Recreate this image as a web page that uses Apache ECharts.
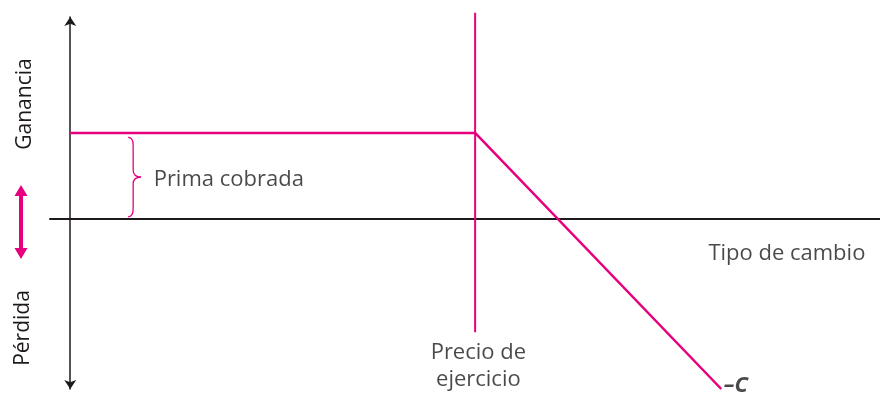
<!DOCTYPE html>
<html>
<head>
<meta charset="utf-8">
<script src="https://cdn.jsdelivr.net/npm/echarts@6/dist/echarts.min.js"></script>
<style>
    html, body { margin: 0; padding: 0; background: #fff; }
    #container { width: 880px; height: 394px; }
</style>
</head>
<body>
<div id="container"></div>
<script>
/*
 * Short call payoff: premium collected up to the strike, then losses
 */
const pink = '#e6007e';
const ink = '#1e1a1b';
const font = '"Open Sans", sans-serif';

// payoff line (x = tipo de cambio, y = ganancia)
const payoffX = [0, 50, 80.4];
const payoffY = [10, 10, -19.8];
// vertical line at the strike price
const strikeX = [50, 50];
const strikeY = [24, -13.2];
// brace: x, from y, to y
const brace = [[7.4, 0.25, 9.5]];
// text labels placed on the chart
const labelNames = ['Prima cobrada', 'Tipo de cambio', 'Precio de\nejercicio', '–C'];
const labelX = [10.3, 88.5, 50.4, 82.2];
const labelY = [4.5, -4.1, -17.2, -19.4];

const dom = document.getElementById('container');
const myChart = echarts.init(dom);

function zip(xs, ys) {
    return xs.map((x, i) => [x, ys[i]]);
}

const option = {
    animation: false,
    backgroundColor: '#fff',
    grid: {
        left: 50,
        right: 0,
        top: 17,
        bottom: 5
    },
    xAxis: {
        type: 'value',
        min: -2.5,
        max: 100,
        splitLine: { show: false },
        axisTick: { show: false },
        axisLabel: { show: false },
        axisLine: {
            onZero: true,
            lineStyle: { color: ink, width: 2 }
        }
    },
    yAxis: {
        type: 'value',
        min: -19.8,
        max: 23.5,
        splitLine: { show: false },
        axisTick: { show: false },
        axisLabel: { show: false },
        axisLine: {
            onZero: true,
            symbol: ['arrow', 'arrow'],
            symbolSize: [9, 9],
            lineStyle: { color: ink, width: 1.5 }
        }
    },
    graphic: [
        {
            // double arrow between Ganancia and Pérdida
            type: 'polygon',
            shape: {
                points: [[21, 185], [27.5, 196], [23, 196], [23, 248], [27.5, 248], [21, 259],
                    [14.5, 248], [19, 248], [19, 196], [14.5, 196]]
            },
            style: { fill: pink }
        },
        {
            type: 'text',
            x: 25,
            y: 104,
            rotation: Math.PI / 2,
            style: {
                text: 'Ganancia',
                font: '21px ' + font,
                fill: ink,
                align: 'center',
                verticalAlign: 'middle'
            }
        },
        {
            type: 'text',
            x: 23,
            y: 328,
            rotation: Math.PI / 2,
            style: {
                text: 'Pérdida',
                font: '21px ' + font,
                fill: ink,
                align: 'center',
                verticalAlign: 'middle'
            }
        }
    ],
    series: [
        {
            type: 'line',
            data: zip(strikeX, strikeY),
            symbol: 'none',
            clip: false,
            lineStyle: { color: pink, width: 2 },
            z: 3
        },
        {
            type: 'line',
            data: zip(payoffX, payoffY),
            symbol: 'none',
            clip: false,
            lineStyle: { color: pink, width: 2.5 },
            z: 4
        },
        {
            type: 'custom',
            data: brace,
            clip: false,
            renderItem: function (params, api) {
                const top = api.coord([api.value(0), api.value(2)]);
                const bot = api.coord([api.value(0), api.value(1)]);
                const x = top[0], y1 = top[1], y2 = bot[1];
                const ym = (y1 + y2) / 2;
                const s = x + 3;
                const d = 'M' + (x - 2) + ' ' + y1 +
                    ' Q' + s + ' ' + y1 + ' ' + s + ' ' + (y1 + 8) +
                    ' L' + s + ' ' + (ym - 7) +
                    ' Q' + s + ' ' + ym + ' ' + (x + 11) + ' ' + ym +
                    ' Q' + s + ' ' + ym + ' ' + s + ' ' + (ym + 7) +
                    ' L' + s + ' ' + (y2 - 8) +
                    ' Q' + s + ' ' + y2 + ' ' + (x - 2) + ' ' + y2;
                return {
                    type: 'path',
                    shape: { pathData: d },
                    style: { stroke: pink, fill: 'none', lineWidth: 1.3 }
                };
            }
        },
        {
            type: 'scatter',
            clip: false,
            symbolSize: 1,
            itemStyle: { color: 'rgba(0,0,0,0)' },
            data: labelNames.map((name, i) => ({
                name: name,
                value: [labelX[i], labelY[i]]
            })),
            label: {
                show: true,
                position: 'inside',
                formatter: '{b}',
                color: ink,
                fontFamily: font,
                fontSize: 22,
                lineHeight: 27,
                align: 'center'
            }
        }
    ]
};

// first label sits left-aligned next to the brace, the last one is bold italic
option.series[3].data[0].label = { align: 'left' };
option.series[3].data[3].label = { fontWeight: 'bold', fontStyle: 'italic' };

myChart.setOption(option, true);
</script>
</body>
</html>
